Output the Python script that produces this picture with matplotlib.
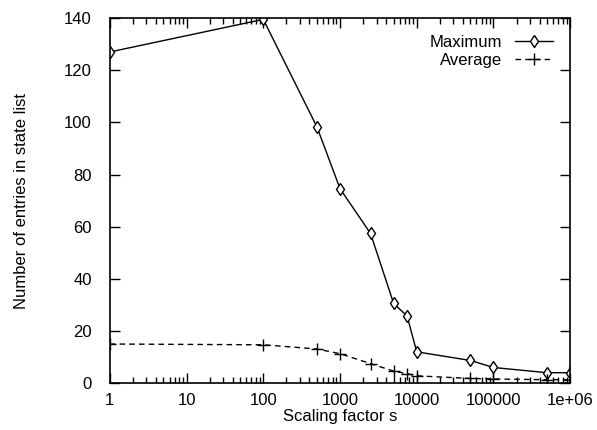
import numpy as np
import matplotlib
matplotlib.use("Agg")
import matplotlib.pyplot as plt
from matplotlib.ticker import LogLocator, FixedLocator, NullFormatter

plt.rcParams['font.family'] = ['Liberation Sans', 'DejaVu Sans']

# scaling factor s
scale = [1, 100, 500, 1000, 2500, 5000, 7500, 10000, 50000, 100000, 500000, 1000000]
maximum = [127, 139.5, 98.3, 74.6, 57.4, 30.6, 25.7, 12, 8.7, 6, 4, 4]
average = [15, 14.7, 13.1, 11.3, 7.5, 4.6, 3.6, 2.8, 1.8, 1.6, 1.3, 1.3]

xticks = [1, 10, 100, 1000, 10000, 100000, 1000000]
xlabels = ['1', '10', '100', '1000', '10000', '100000', '1e+06']

fig = plt.figure(figsize=(5.97, 4.30), dpi=100)
ax = fig.add_axes([0.184, 0.109, 0.771, 0.849])

ax.plot(scale, maximum, color='black', lw=1, marker='d', ms=6,
        mfc='white', mec='black', mew=1, label='Maximum')
ax.plot(scale, average, color='black', lw=1, ls=(0, (4, 3)), marker='+',
        ms=8, mew=1, label='Average')

ax.set_xscale('log')
ax.set_xlim(1, 1e6)
ax.set_ylim(0, 140)
ax.xaxis.set_major_locator(FixedLocator(xticks))
ax.set_xticklabels(xlabels)
ax.xaxis.set_minor_locator(LogLocator(base=10, subs=np.arange(2, 10)))
ax.xaxis.set_minor_formatter(NullFormatter())
ax.set_yticks(range(0, 141, 20))

ax.tick_params(which='both', direction='in', top=True, right=True, labelsize=12)
ax.tick_params(which='major', length=7, width=1)
ax.tick_params(which='minor', length=4, width=1)
ax.tick_params(axis='y', pad=13)
ax.tick_params(axis='x', pad=7)
for sp in ax.spines.values():
    sp.set_linewidth(1.2)

ax.set_xlabel('Scaling factor s', fontsize=12, labelpad=1)
ax.set_ylabel('Number of entries in state list', fontsize=12, labelpad=25)

ax.legend(loc='upper right', frameon=False, markerfirst=False, fontsize=12,
          handlelength=2.3, borderaxespad=0.6, labelspacing=0.2)

fig.savefig('out.png', dpi=100)
